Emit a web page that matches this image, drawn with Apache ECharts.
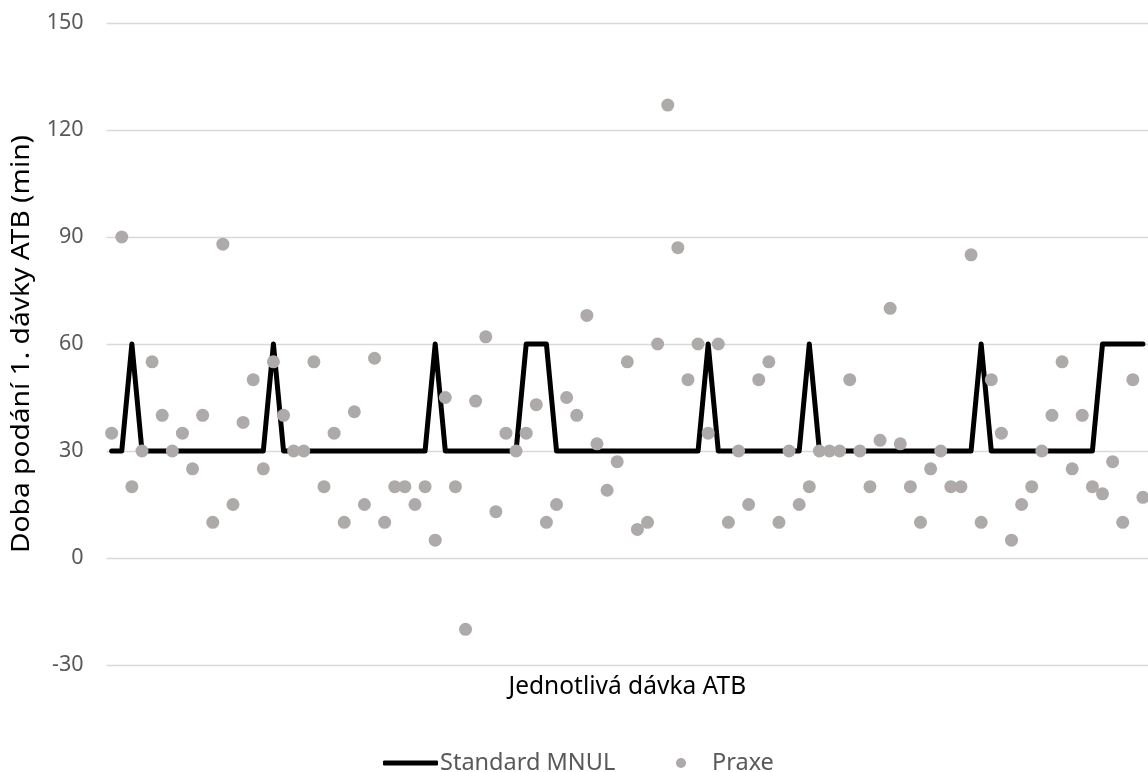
<!DOCTYPE html>
<html>
<head>
<meta charset="utf-8">
<script src="https://cdn.jsdelivr.net/npm/echarts@6/dist/echarts.min.js"></script>
<style>
  html, body { margin: 0; padding: 0; background: #ffffff; }
  #chart { width: 1148px; height: 772px; }
</style>
</head>
<body>
<div id="chart"></div>
<script>
// Time to first antibiotic dose (min) per individual dose
const seriesNames = ['Standard MNUL', 'Praxe'];

// Hospital standard (MNUL) target times
const standardMNUL = [
  30, 30, 60, 30, 30, 30, 30, 30, 30, 30,
  30, 30, 30, 30, 30, 30, 60, 30, 30, 30,
  30, 30, 30, 30, 30, 30, 30, 30, 30, 30,
  30, 30, 60, 30, 30, 30, 30, 30, 30, 30,
  30, 60, 60, 60, 30, 30, 30, 30, 30, 30,
  30, 30, 30, 30, 30, 30, 30, 30, 30, 60,
  30, 30, 30, 30, 30, 30, 30, 30, 30, 60,
  30, 30, 30, 30, 30, 30, 30, 30, 30, 30,
  30, 30, 30, 30, 30, 30, 60, 30, 30, 30,
  30, 30, 30, 30, 30, 30, 30, 30, 60, 60,
  60, 60, 60
];

// Observed practice
const praxe = [
  35, 90, 20, 30, 55, 40, 30, 35, 25, 40,
  10, 88, 15, 38, 50, 25, 55, 40, 30, 30,
  55, 20, 35, 10, 41, 15, 56, 10, 20, 20,
  15, 20, 5, 45, 20, -20, 44, 62, 13, 35,
  30, 35, 43, 10, 15, 45, 40, 68, 32, 19,
  27, 55, 8, 10, 60, 127, 87, 50, 60, 35,
  60, 10, 30, 15, 50, 55, 10, 30, 15, 20,
  30, 30, 30, 50, 30, 20, 33, 70, 32, 20,
  10, 25, 30, 20, 20, 85, 10, 50, 35, 5,
  15, 20, 30, 40, 55, 25, 40, 20, 18, 27,
  10, 50, 17
];

// Dose numbers along the horizontal axis
const doses = standardMNUL.map((_, i) => String(i + 1));

const yMin = -30, yMax = 150, yStep = 30;
const xTitle = 'Jednotlivá dávka ATB';
const yTitle = 'Doba podání 1. dávky ATB (min)';

const FONT = '"Noto Sans", "Open Sans", sans-serif';
const legendText = { fontFamily: FONT, fontSize: 23.5, color: '#595959' };

const GRID = { left: 106.6, top: 23, width: 1044.4, height: 642 };

const chart = echarts.init(document.getElementById('chart'), null, { renderer: 'canvas' });

chart.setOption({
  animation: false,
  backgroundColor: '#ffffff',
  grid: Object.assign({ containLabel: false }, GRID),
  xAxis: {
    type: 'category',
    data: doses,
    boundaryGap: true,
    axisLine: { show: false },
    axisTick: { show: false },
    axisLabel: { show: false },
    splitLine: { show: false },
    name: xTitle,
    nameLocation: 'middle',
    nameGap: 10,
    nameTextStyle: { fontFamily: FONT, fontSize: 24.5, color: '#000000' }
  },
  yAxis: {
    type: 'value',
    min: yMin,
    max: yMax,
    interval: yStep,
    axisLine: { show: false },
    axisTick: { show: false },
    axisLabel: { margin: 23, fontFamily: FONT, fontSize: 21.5, color: '#595959' },
    splitLine: { lineStyle: { color: '#d9d9d9', width: 1.3 } }
  },
  // Vertical axis title, centred on the plot and set a little wider along its reading direction
  graphic: [
    {
      type: 'text',
      x: 22.4,
      y: GRID.top + GRID.height / 2,
      rotation: Math.PI / 2,
      scaleX: 1.15,
      silent: true,
      style: {
        text: yTitle,
        fontFamily: FONT,
        fontSize: 24.5,
        fill: '#000000',
        align: 'center',
        verticalAlign: 'middle'
      }
    }
  ],
  legend: [
    {
      data: [{ name: seriesNames[0], icon: 'roundRect' }],
      top: 746,
      left: 378,
      padding: 5,
      itemWidth: 55,
      itemHeight: 5,
      textStyle: Object.assign({ padding: [0, 0, 0, -3] }, legendText)
    },
    {
      data: [{ name: seriesNames[1], icon: 'circle' }],
      top: 746,
      left: 671,
      padding: 5,
      itemWidth: 10,
      itemHeight: 10,
      textStyle: Object.assign({ padding: [0, 0, 0, 21] }, legendText)
    }
  ],
  series: [
    {
      name: seriesNames[0],
      type: 'line',
      data: standardMNUL,
      symbol: 'none',
      lineStyle: { color: '#000000', width: 5, join: 'round', cap: 'round' },
      itemStyle: { color: '#000000' },
      z: 2
    },
    {
      name: seriesNames[1],
      type: 'scatter',
      data: praxe,
      symbol: 'circle',
      symbolSize: 13,
      itemStyle: { color: '#aeaaaa', opacity: 1 },
      z: 3
    }
  ]
});
</script>
</body>
</html>
